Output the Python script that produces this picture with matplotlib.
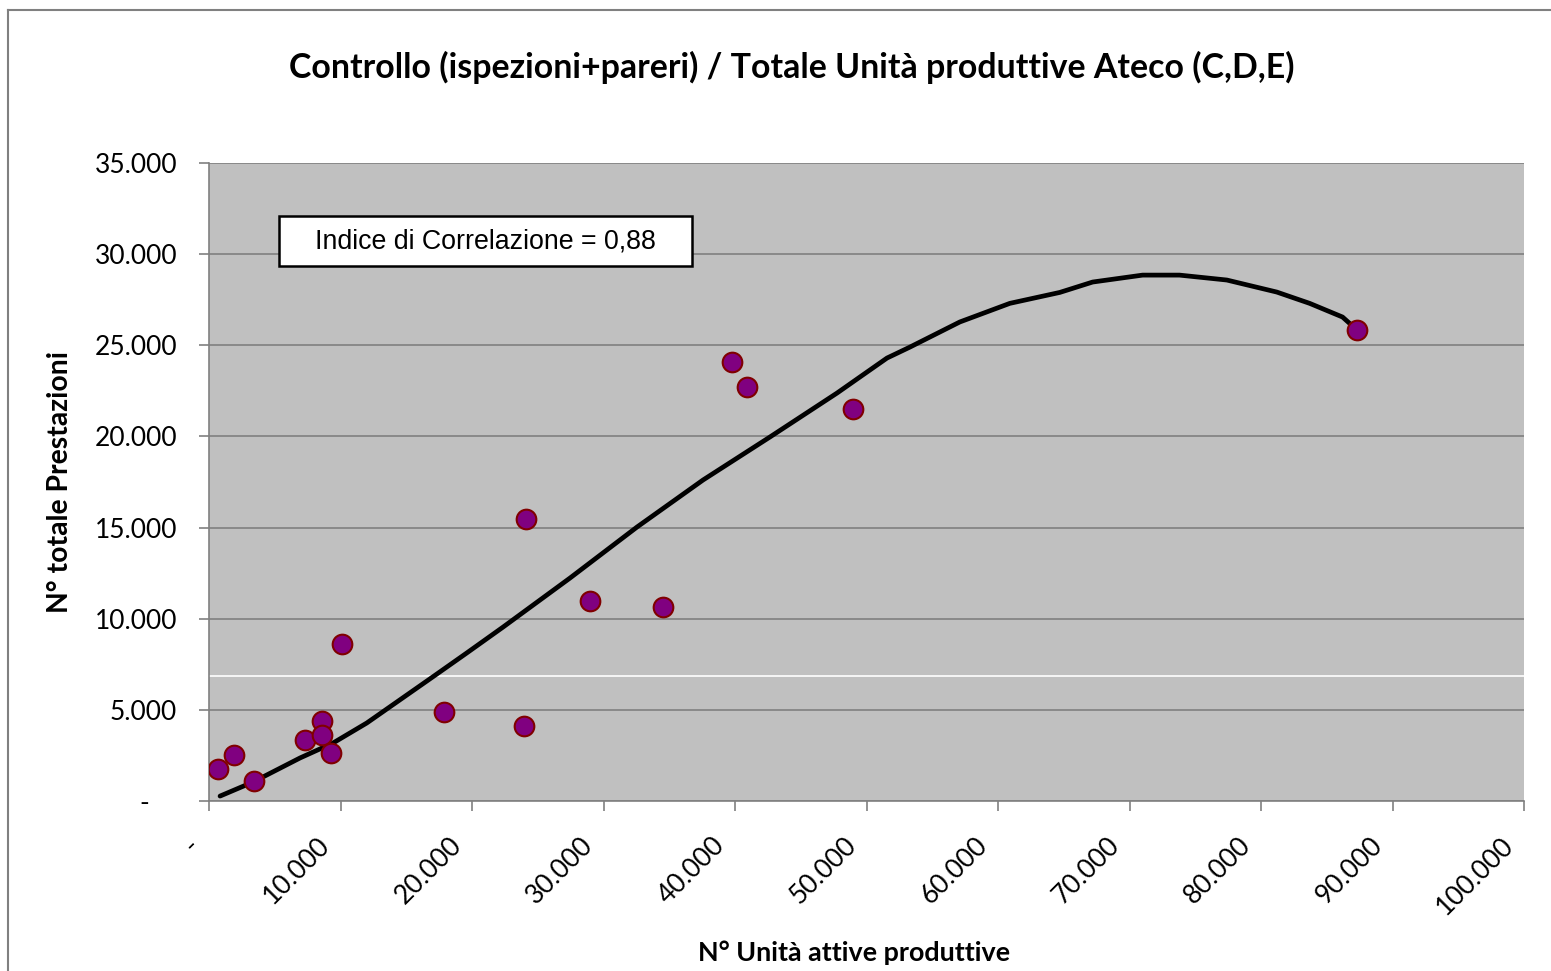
import numpy as np
import matplotlib.pyplot as plt
from matplotlib.ticker import FixedLocator, FuncFormatter
from matplotlib.lines import Line2D
from matplotlib.patches import Rectangle
from matplotlib.transforms import ScaledTranslation

# Data
unita = [685, 1900, 3420, 7300, 8600, 8600, 9280, 10100, 17870, 23950,
         24100, 28970, 34500, 39770, 40900, 48970, 87300]
prestazioni = [1755, 2520, 1100, 3350, 4390, 3620, 2630, 8610, 4880, 4110,
               15470, 10970, 10640, 24080, 22710, 21500, 25840]

# trend line as drawn in the original
trend_x = [840, 3350, 6920, 9430, 12000, 14500, 17000, 19600, 22360, 27450,
           32550, 37570, 42660, 47760, 49500, 51560, 53300, 57100, 60900,
           64700, 67200, 71000, 73800, 77400, 81200, 83700, 86200, 87300]
trend_y = [270, 1040, 2360, 3180, 4280, 5540, 6800, 8120, 9540, 12230,
           15030, 17610, 19970, 22380, 23260, 24300, 24900, 26280, 27300,
           27900, 28470, 28850, 28850, 28580, 27920, 27300, 26550, 25840]

x_ticks = [0, 10000, 20000, 30000, 40000, 50000, 60000, 70000, 80000, 90000, 100000]
y_ticks = [0, 5000, 10000, 15000, 20000, 25000, 30000, 35000]
title = "Controllo (ispezioni+pareri) / Totale Unità produttive Ateco (C,D,E)"
xlabel = "N° Unità attive produttive"
ylabel = "N° totale Prestazioni"
note = "Indice di Correlazione = 0,88"

plt.rcParams['font.family'] = ['Lato', 'DejaVu Sans']

def fmt(v, pos=None):
    if v == 0:
        return "-"
    return f"{int(v):,}".replace(",", ".")

fig = plt.figure(figsize=(15.51, 9.71), dpi=100)
ax = fig.add_axes([209/1551, 1-801/971, (1524-209)/1551, (801-163)/971])
ax.set_facecolor('#C0C0C0')

ax.plot(trend_x, trend_y, color='black', lw=3.4, zorder=3,
        solid_joinstyle='round', solid_capstyle='round')
ax.scatter(unita, prestazioni, s=200, color='#800080', edgecolor='#800000',
           linewidth=1.5, zorder=4)

ax.set_xlim(0, 100000)
ax.set_ylim(0, 35000)
ax.xaxis.set_major_locator(FixedLocator(x_ticks))
ax.yaxis.set_major_locator(FixedLocator(y_ticks))
ax.xaxis.set_major_formatter(FuncFormatter(fmt))
ax.yaxis.set_major_formatter(FuncFormatter(fmt))
ax.yaxis.grid(True, color='#808080', lw=1.2, zorder=1)
ax.set_axisbelow(True)
ax.axhline(6850, color='white', lw=1.2, zorder=1)

for s in ['top', 'right']:
    ax.spines[s].set_visible(False)
for s in ['left', 'bottom']:
    ax.spines[s].set_color('#808080')
    ax.spines[s].set_linewidth(1.2)
ax.tick_params(axis='both', colors='#808080', length=7, width=1.2,
               labelsize=19, labelcolor='black')
ax.tick_params(axis='y', pad=16)
ax.tick_params(axis='x', pad=0)

shift_x = ScaledTranslation(-0.23, -0.22, fig.dpi_scale_trans)
for lbl in ax.get_xticklabels():
    lbl.set_rotation(45)
    lbl.set_ha('right')
    lbl.set_va('top')
    lbl.set_rotation_mode('anchor')
    lbl.set_transform(lbl.get_transform() + shift_x)
ax.get_yticklabels()[0].set_transform(
    ax.get_yticklabels()[0].get_transform() + ScaledTranslation(-0.28, 0, fig.dpi_scale_trans))

fig.text(792/1551, 1-67/971, title, ha='center', va='center',
         fontsize=24.4, fontweight='bold')
fig.text(854/1551, 1-953/971, xlabel, ha='center', va='center',
         fontsize=19.4, fontweight='bold')
fig.text(60/1551, 1-482/971, ylabel, ha='center', va='center', rotation=90,
         fontsize=20.4, fontweight='bold')

# correlation note box
ax.add_patch(Rectangle((70/1315, (801-266)/638), 413/1315, 50/638,
                       transform=ax.transAxes, fc='white', ec='black', lw=1.8, zorder=5))
ax.text((485.5-209)/1315, (801-241)/638, note, transform=ax.transAxes,
        ha='center', va='center', fontsize=19.3, zorder=6,
        family=['Liberation Sans', 'DejaVu Sans'])

# outer chart border (top and left only visible)
fig.add_artist(Line2D([8/1551, 1], [1-10/971, 1-10/971], color='#808080', lw=1.5))
fig.add_artist(Line2D([8/1551, 8/1551], [0, 1-10/971], color='#808080', lw=1.5))

fig.savefig('out.png', dpi=100)
